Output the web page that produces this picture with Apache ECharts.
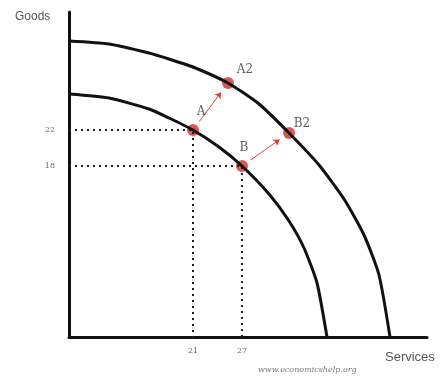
<!DOCTYPE html>
<html>
<head>
<meta charset="utf-8">
<script src="https://cdn.jsdelivr.net/npm/echarts@6/dist/echarts.min.js"></script>
<style>
  html, body {margin: 0; padding: 0; background: #fff;}
  #chart {width: 443px; height: 378px;}
</style>
</head>
<body>
<div id="chart"></div>
<script>
// curves (abstract units: services 0..358, goods 0..325)
const innerX = [0, 40, 80, 100, 124, 150, 173, 200, 220, 235, 248, 258];
const innerY = [243, 239, 228, 219, 207, 190, 171, 143, 116, 89, 54, 0];
const outerX = [0, 40, 80, 100, 124, 159, 190, 220, 250, 275, 295, 310, 321];
const outerY = [296, 293, 284, 278, 270, 254, 233, 204, 172, 138, 102, 62, 0];

// production points
const pointNames = ['A', 'B', 'A2', 'B2'];
const pointX = [124, 173, 159, 220];
const pointY = [207, 171, 254, 204];

// tick labels on the axes (only A and B are marked)
const goodsTicks = [207, 171];
const goodsTickLabels = ['22', '18'];
const servicesTicks = [124, 173];
const servicesTickLabels = ['21', '27'];

const RED = '#d42e25';

function pt(name) {
    const i = pointNames.indexOf(name);
    return [pointX[i], pointY[i]];
}

// arrow from p to q, trimmed a bit at both ends
function arrow(from, to) {
    const p = pt(from), q = pt(to);
    const a = 0.18, b = 0.8;
    return {
        coords: [
            [p[0] + (q[0] - p[0]) * a, p[1] + (q[1] - p[1]) * a],
            [p[0] + (q[0] - p[0]) * b, p[1] + (q[1] - p[1]) * b]
        ]
    };
}

function dotted(name) {
    const p = pt(name);
    return [[0, p[1]], [p[0], p[1]], [p[0], 0]];
}

const labelOffsets = {A: [8, -18], B: [2, -18], A2: [17, -13], B2: [13, -9]};

var myChart = echarts.init(document.getElementById('chart'));
myChart.setOption({
    animation: false,
    grid: {left: 69, right: 16, top: 12, bottom: 41},
    xAxis: {
        type: 'value', min: 0, max: 358,
        axisLine: {show: true, lineStyle: {color: '#111', width: 3}},
        axisTick: {show: false},
        splitLine: {show: false},
        axisLabel: {
            customValues: servicesTicks,
            margin: 10,
            color: '#666',
            fontFamily: 'DejaVu Serif',
            fontSize: 8,
            formatter: v => servicesTickLabels[servicesTicks.indexOf(v)] || ''
        }
    },
    yAxis: {
        type: 'value', min: 0, max: 325,
        axisLine: {show: true, lineStyle: {color: '#111', width: 3}},
        axisTick: {show: false},
        splitLine: {show: false},
        axisLabel: {
            customValues: goodsTicks,
            margin: 14,
            color: '#666',
            fontFamily: 'DejaVu Serif',
            fontSize: 8,
            formatter: v => goodsTickLabels[goodsTicks.indexOf(v)] || ''
        }
    },
    graphic: [
        {type: 'text', left: 15, top: 11, style: {text: 'Goods', fill: '#555', font: '12px "Liberation Sans"'}},
        {type: 'text', left: 385, top: 351, style: {text: 'Services', fill: '#555', font: '13px "Liberation Sans"'}},
        {type: 'text', left: 258, top: 366, style: {text: 'www.economicshelp.org', fill: '#777', font: 'italic 8px "DejaVu Serif"'}}
    ],
    series: [
        {
            type: 'line', data: dotted('A'), symbol: 'none', silent: true,
            lineStyle: {color: '#222', width: 2, type: [2, 4]}
        },
        {
            type: 'line', data: dotted('B'), symbol: 'none', silent: true,
            lineStyle: {color: '#222', width: 2, type: [2, 4]}
        },
        {
            type: 'line', data: innerX.map((x, i) => [x, innerY[i]]),
            symbol: 'none', smooth: 0.2,
            lineStyle: {color: '#111', width: 3}
        },
        {
            type: 'line', data: outerX.map((x, i) => [x, outerY[i]]),
            symbol: 'none', smooth: 0.2,
            lineStyle: {color: '#111', width: 3}
        },
        {
            type: 'lines', coordinateSystem: 'cartesian2d',
            symbol: ['none', 'arrow'], symbolSize: 6,
            lineStyle: {color: RED, width: 1, opacity: 0.9},
            data: [arrow('A', 'A2'), arrow('B', 'B2')]
        },
        {
            type: 'scatter',
            symbolSize: 12,
            itemStyle: {color: RED},
            data: pointNames.map((n, i) => ({
                name: n,
                value: [pointX[i], pointY[i]],
                label: {
                    show: true, position: 'inside', formatter: n,
                    offset: labelOffsets[n],
                    color: '#333', fontFamily: 'DejaVu Serif', fontSize: 12
                }
            }))
        }
    ]
});
</script>
</body>
</html>
